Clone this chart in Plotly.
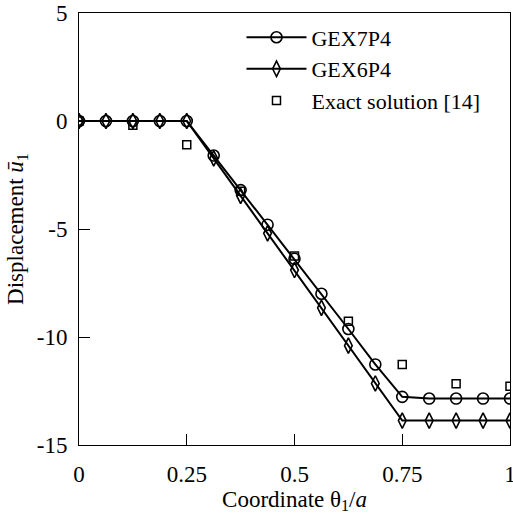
import plotly.graph_objects as go

x_nodes = [0, 0.0625, 0.125, 0.1875, 0.25, 0.3125, 0.375, 0.4375, 0.5,
           0.5625, 0.625, 0.6875, 0.75, 0.8125, 0.875, 0.9375, 1.0]
gex7p4 = [0, 0, 0, 0, 0, -1.6, -3.2, -4.8, -6.38, -8.0, -9.63, -11.27,
          -12.77, -12.85, -12.85, -12.85, -12.85]
gex6p4 = [0, 0, 0, 0, 0, -1.73, -3.47, -5.2, -6.9, -8.65, -10.4, -12.15,
          -13.87, -13.87, -13.87, -13.87, -13.87]
x_exact = [0, 0.125, 0.25, 0.375, 0.5, 0.625, 0.75, 0.875, 1.0]
exact = [0, -0.2, -1.1, -3.25, -6.25, -9.27, -11.27, -12.17, -12.28]

x_ticks = [0, 0.25, 0.5, 0.75, 1]
x_ticktext = ["0", "0.25", "0.5", "0.75", "1"]
y_ticks = [-15, -10, -5, 0, 5]
y_ticktext = ["-15", "-10", "-5", "0", "5"]

FONT = "Liberation Serif"
FS = 23

fig = go.Figure()
fig.add_trace(go.Scatter(x=x_nodes, y=gex7p4, name="GEX7P4", mode="lines+markers",
                         line=dict(color="black", width=2),
                         marker=dict(symbol="circle-open", size=11, color="black",
                                     line=dict(width=1.6, color="black"))))
fig.add_trace(go.Scatter(x=x_nodes, y=gex6p4, name="GEX6P4", mode="lines+markers",
                         line=dict(color="black", width=2),
                         marker=dict(symbol="diamond-tall-open", size=11, color="black",
                                     line=dict(width=1.6, color="black"))))
fig.add_trace(go.Scatter(x=x_exact, y=exact, name="Exact solution [14]", mode="markers",
                         marker=dict(symbol="square-open", size=8, color="black",
                                     line=dict(width=1.5, color="black"))))

fig.update_layout(
    width=513, height=516,
    margin=dict(l=79, r=3, t=13, b=71, autoexpand=False),
    paper_bgcolor="white", plot_bgcolor="white",
    font=dict(family=FONT, size=FS, color="black"),
    showlegend=True,
    legend=dict(x=0.377, y=0.992, xanchor="left", yanchor="top",
                bgcolor="rgba(0,0,0,0)", font=dict(size=22, family=FONT, color="black"),
                tracegroupgap=0, itemwidth=60),
    xaxis=dict(range=[0, 1.000001], tickvals=x_ticks, ticktext=x_ticktext,
               showgrid=False, zeroline=False, showline=True, linecolor="black",
               linewidth=1, mirror=True, ticks="inside", ticklen=11,
               tickcolor="black", tickfont=dict(size=FS, family=FONT, color="black"),
               ticklabelstandoff=8, ticklabeloverflow="allow", automargin=False,
               title=dict(text="Coordinate θ<sub>1</sub>/<i>a</i>",
                          font=dict(size=FS, family=FONT, color="black"), standoff=2)),
    yaxis=dict(range=[-15, 5], tickvals=y_ticks, ticktext=y_ticktext,
               showgrid=False, zeroline=False, showline=True, linecolor="black",
               linewidth=1, mirror=True, ticks="inside", ticklen=11,
               tickcolor="black", tickfont=dict(size=FS, family=FONT, color="black"),
               ticklabelstandoff=6, ticklabeloverflow="allow", automargin=False,
               title=dict(text="Displacement <i>ū</i><sub>1</sub>",
                          font=dict(size=FS, family=FONT, color="black"), standoff=6)),
)

fig.write_html("out.html")
